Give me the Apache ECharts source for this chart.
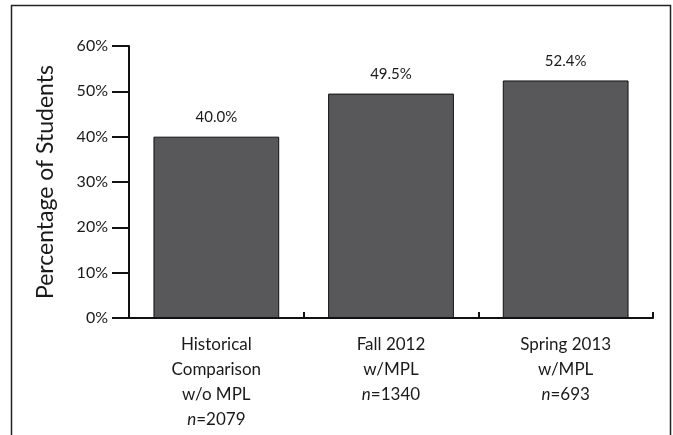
<!DOCTYPE html>
<html>
<head>
<meta charset="utf-8">
<script src="https://cdn.jsdelivr.net/npm/echarts@6/dist/echarts.min.js"></script>
<style>
html, body { margin: 0; padding: 0; background: #fff; }
#main { width: 673px; height: 435px; }
</style>
</head>
<body>
<div id="main"></div>
<script>
// 数据
var groups = ['Historical\nComparison\nw/o MPL', 'Fall 2012\nw/MPL', 'Spring 2013\nw/MPL'];
var sampleSizes = ['2079', '1340', '693'];
var percents = [40.0, 49.5, 52.4];
var yTicks = [0, 10, 20, 30, 40, 50, 60];

var fontName = 'Lato';

var main = echarts.init(document.getElementById('main'));
var option = {
    animation: false,
    textStyle: { fontFamily: fontName },
    graphic: [
        {
            type: 'rect',
            shape: { x: 11.5, y: 5.5, width: 659, height: 460 },
            style: { fill: 'none', stroke: '#222', lineWidth: 1.5 },
            silent: true
        }
    ],
    grid: {
        left: 129,
        right: 20,
        top: 46,
        bottom: 117
    },
    xAxis: {
        type: 'category',
        data: groups.map(function (g, i) { return g + '\n{i|n}=' + sampleSizes[i]; }),
        axisLine: { lineStyle: { color: '#111', width: 2 } },
        axisTick: {
            show: true,
            inside: true,
            length: 6,
            alignWithLabel: false,
            lineStyle: { color: '#111', width: 2 }
        },
        axisLabel: {
            margin: 14,
            color: '#1a1a1a',
            fontSize: 17,
            lineHeight: 25,
            fontFamily: fontName,
            rich: {
                i: { fontStyle: 'italic', fontSize: 17, lineHeight: 25, color: '#1a1a1a', fontFamily: fontName }
            }
        }
    },
    yAxis: {
        type: 'value',
        min: yTicks[0],
        max: yTicks[yTicks.length - 1],
        interval: 10,
        name: 'Percentage of Students',
        nameLocation: 'middle',
        nameGap: 72,
        nameTextStyle: { fontSize: 23, color: '#1a1a1a', fontFamily: fontName },
        splitLine: { show: false },
        axisLine: { show: true, lineStyle: { color: '#111', width: 2 } },
        axisTick: {
            show: true,
            length: 17,
            lineStyle: { color: '#111', width: 2 }
        },
        axisLabel: {
            margin: 21,
            color: '#1a1a1a',
            fontSize: 16,
            fontFamily: fontName,
            formatter: '{value}%'
        }
    },
    series: [
        {
            type: 'bar',
            data: percents,
            barWidth: '72%',
            itemStyle: {
                color: '#58585a',
                borderColor: '#111',
                borderWidth: 1
            },
            label: {
                show: true,
                position: 'top',
                distance: 12,
                color: '#1a1a1a',
                fontSize: 15,
                fontFamily: fontName,
                formatter: function (p) { return p.value.toFixed(1) + '%'; }
            }
        }
    ]
};
main.setOption(option);
</script>
</body>
</html>
